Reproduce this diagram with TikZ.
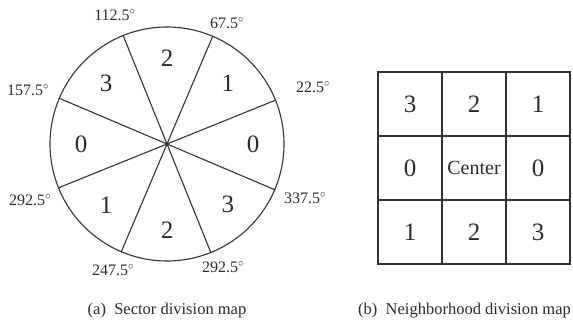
\documentclass[tikz,border=0pt]{standalone}
\usepackage{fontspec}
\setmainfont{Liberation Serif}
\usetikzlibrary{positioning}
\definecolor{edgegray}{HTML}{333333}
\definecolor{inkgray}{HTML}{2A2A2A}

\begin{document}
\begin{tikzpicture}[x=1pt, y=1pt]
  % Define styles
  \tikzstyle{wheel} = [circle, draw=edgegray, line width=1.1pt, minimum size=234pt, inner sep=0pt]
  \tikzstyle{spoke} = [draw=edgegray, line width=1.1pt]
  \tikzstyle{sectnum} = [text=inkgray, font=\fontsize{25}{25}\selectfont]
  \tikzstyle{deg} = [text=inkgray, font=\fontsize{16}{16}\selectfont, inner sep=0pt]
  \tikzstyle{cell} = [rectangle, draw=edgegray, line width=1.3pt, minimum size=64pt, outer sep=0pt, text=inkgray, font=\fontsize{25}{25}\selectfont]
  \tikzstyle{caption} = [text=inkgray, font=\fontsize{16.5}{16.5}\selectfont, inner sep=0pt]

  \useasboundingbox (0,0) rectangle (573,321);

  % Sector division map
  \node [wheel] (wheel) at (167,177) {};
  \foreach \a/\b in {22.5/202.5, 67.5/247.5, 112.5/292.5, 157.5/337.5}
    \path [spoke] (wheel.\a) -- (wheel.\b);
  \fill [edgegray] (wheel.center) circle (2pt);
  \foreach \ang/\lab in {0/0, 45/1, 90/2, 135/3, 180/0, 225/1, 270/2, 315/3}
    \node [sectnum] (sec\ang) at ([shift={(\ang:86)}]wheel.center) {\lab};

  % Angle labels
  \node [deg] (d1125) at (115,306) {112.5$^{\circ}$};
  \node [deg] (d675) at (227,298) {67.5$^{\circ}$};
  \node [deg] (d225) at (313,234) {22.5$^{\circ}$};
  \node [deg] (d1575) at (28,231) {157.5$^{\circ}$};
  \node [deg] (d2925a) at (30,121) {292.5$^{\circ}$};
  \node [deg] (d3375) at (305,123) {337.5$^{\circ}$};
  \node [deg] (d2475) at (113,51) {247.5$^{\circ}$};
  \node [deg] (d2925b) at (223,54) {292.5$^{\circ}$};

  % Neighborhood division map
  \node [cell] (nw) at (410,217) {3};
  \node [cell, right=0pt of nw] (n) {2};
  \node [cell, right=0pt of n] (ne) {1};
  \node [cell, below=0pt of nw] (w) {0};
  \node [cell, right=0pt of w, font=\fontsize{20}{20}\selectfont] (mid) {Center};
  \node [cell, right=0pt of mid] (e) {0};
  \node [cell, below=0pt of w] (sw) {1};
  \node [cell, right=0pt of sw] (s) {2};
  \node [cell, right=0pt of s] (se) {3};

  % Captions
  \node [caption] (capa) at (167,10) {(a)~~Sector division map};
  \node [caption, anchor=west] (capb) at (358,10) {(b)~~Neighborhood division map};
\end{tikzpicture}
\end{document}
